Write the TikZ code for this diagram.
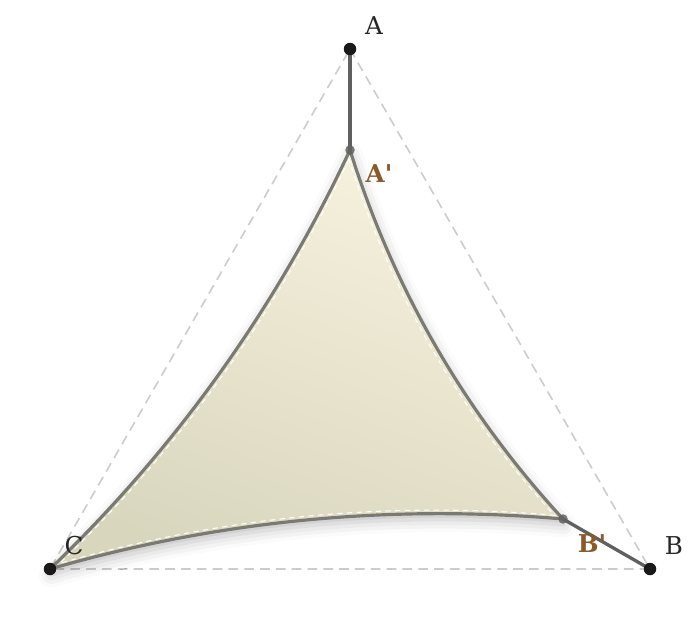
\documentclass[tikz,border=0pt]{standalone}
\usepackage{fontspec}
\setmainfont{DejaVu Serif}
\usepackage{tikz}
\usepackage{xcolor}
\usetikzlibrary{shadows.blur}
\definecolor{guidegray}{HTML}{CCCCCC}
\definecolor{ropegray}{HTML}{606060}
\definecolor{edgegray}{HTML}{7A7972}
\definecolor{sailtop}{HTML}{F7F2DE}
\definecolor{sailbottom}{HTML}{D9D6BE}
\definecolor{primebrown}{HTML}{8B5A2B}
\tikzset{
 anchorpt/.style={circle,fill=black!90,inner sep=0pt,minimum size=0.25cm},
 cornerpt/.style={circle,fill=ropegray,fill opacity=0.85,inner sep=0pt,minimum size=0.19cm},
 guide/.style={draw=guidegray,line width=0.9pt,dash pattern=on 5.5pt off 3.5pt},
 rope/.style={draw=ropegray,line width=1.9pt},
 ptlabel/.style={font=\fontsize{14}{16}\selectfont,text=black!85},
 primelabel/.style={font=\fontsize{14}{16}\selectfont\bfseries,text=primebrown},
 }
\newcommand{\sailpath}{(7,9.4) .. controls (5.52,6.24) and (3.52,3.44) .. (1,1.02)
 .. controls (4.36,1.99) and (7.78,2.32) .. (11.26,2.02)
 .. controls (9.29,4.16) and (7.87,6.62) .. (7,9.4) -- cycle}

\begin{document}
\begin{tikzpicture}
    \useasboundingbox (0,0) rectangle (14,12.4);
    % fixed anchors
    \coordinate (A) at (7,11.42);
    \coordinate (B) at (13,1.02);
    \coordinate (C) at (1,1.02);
    \coordinate (Ap) at (7,9.4);
    \coordinate (Bp) at (11.26,2.02);
    % guide triangle
    \draw[guide] (A) -- (B) -- (C) -- cycle;
    % sail
    \shade[top color=sailtop,bottom color=sailbottom,shading angle=-20,
        blur shadow={shadow xshift=0.02cm,shadow yshift=-0.12cm,shadow blur radius=0.25cm,shadow opacity=25}]
        \sailpath;
    \begin{scope}[shift={(6.42,4.15)},scale=0.965,shift={(-6.42,-4.15)}]
        \draw[white,line width=0.6pt,dash pattern=on 3pt off 2.5pt] \sailpath;
    \end{scope}
    \draw[edgegray,line width=1.8pt,line join=round] \sailpath;
    % ropes
    \draw[rope] (A) -- (Ap);
    \draw[rope] (B) -- (Bp);
    % points
    \node[anchorpt] (nA) at (A) {};
    \node[anchorpt] (nB) at (B) {};
    \node[anchorpt] (nC) at (C) {};
    \node[cornerpt] (nAp) at (Ap) {};
    \node[cornerpt] (nBp) at (Bp) {};
    % labels
    \node[ptlabel] (lA) at (7.48,11.88) {A};
    \node[ptlabel] (lB) at (13.48,1.48) {B};
    \node[ptlabel] (lC) at (1.48,1.48) {C};
    \node[primelabel] (lAp) at (7.58,8.92) {A\textquotesingle};
    \node[primelabel] (lBp) at (11.84,1.52) {B\textquotesingle};
\end{tikzpicture}
\end{document}
